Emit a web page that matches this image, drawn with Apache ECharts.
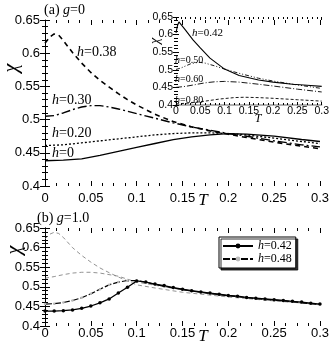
<!DOCTYPE html>
<html><head><meta charset="utf-8">
<script src="https://cdn.jsdelivr.net/npm/echarts@6/dist/echarts.min.js"></script>
<style>html,body{margin:0;padding:0;background:#fff}#c{width:332px;height:354px}</style>
</head><body><div id="c"></div>
<script>
// ---------- Panel (a), g=0, main ----------
const Ta_h0 = [0,0.02,0.04,0.06,0.08,0.10,0.12,0.14,0.16,0.18,0.20,0.22,0.25,0.28,0.30];
const chi_a_h0 = [0.438,0.439,0.441,0.446,0.452,0.458,0.464,0.470,0.474,0.477,0.479,0.478,0.475,0.470,0.467];
const Ta_h20 = [0,0.02,0.04,0.06,0.08,0.10,0.12,0.14,0.16,0.18,0.20,0.22,0.25,0.28,0.30];
const chi_a_h20 = [0.461,0.462,0.465,0.468,0.471,0.474,0.477,0.479,0.480,0.480,0.479,0.477,0.472,0.467,0.464];
const Ta_h30 = [0,0.01,0.02,0.03,0.04,0.05,0.06,0.07,0.08,0.10,0.12,0.14,0.16,0.18,0.20,0.22,0.25,0.28,0.30];
const chi_a_h30 = [0.505,0.506,0.510,0.515,0.519,0.521,0.521,0.519,0.516,0.509,0.502,0.495,0.489,0.484,0.479,0.475,0.468,0.462,0.459];
const Ta_h38 = [0,0.005,0.01,0.015,0.02,0.03,0.04,0.05,0.06,0.07,0.08,0.09,0.10,0.12,0.14,0.16,0.18,0.20,0.22,0.25,0.28,0.30];
const chi_a_h38 = [0.615,0.624,0.629,0.627,0.619,0.601,0.585,0.571,0.559,0.549,0.539,0.530,0.522,0.508,0.497,0.489,0.483,0.478,0.473,0.466,0.460,0.456];

// ---------- Panel (a) inset ----------
const Ti_h42 = [0,0.003,0.006,0.01,0.02,0.035,0.05,0.07,0.10,0.13,0.17,0.20,0.24,0.27,0.30];
const chi_i_h42 = [0.605,0.625,0.636,0.632,0.612,0.585,0.562,0.533,0.502,0.484,0.471,0.465,0.459,0.456,0.453];
const Ti_h50 = [0,0.01,0.02,0.03,0.04,0.05,0.06,0.08,0.10,0.13,0.17,0.20,0.25,0.30];
const chi_i_h50 = [0.501,0.505,0.511,0.517,0.520,0.521,0.519,0.511,0.502,0.490,0.476,0.468,0.457,0.447];
const Ti_h60 = [0,0.02,0.04,0.06,0.08,0.10,0.13,0.17,0.20,0.25,0.30];
const chi_i_h60 = [0.450,0.453,0.458,0.463,0.466,0.467,0.465,0.459,0.454,0.445,0.437];
const Ti_h80 = [0,0.03,0.06,0.09,0.12,0.14,0.17,0.20,0.25,0.30];
const chi_i_h80 = [0.403,0.406,0.411,0.417,0.421,0.422,0.421,0.419,0.415,0.411];

// ---------- Panel (b), g=1.0 ----------
const Tb = [0,0.01,0.02,0.03,0.04,0.05,0.06,0.07,0.08,0.09,0.10,0.11,0.12,0.13,0.14,0.15,0.16,0.17,0.18,0.19,0.20,0.21,0.22,0.23,0.24,0.25,0.26,0.27,0.28,0.29,0.30];
const chi_b_h42 = [0.438,0.438,0.439,0.441,0.445,0.451,0.459,0.469,0.484,0.499,0.515,0.512,0.507,0.503,0.498,0.494,0.490,0.487,0.484,0.481,0.478,0.476,0.473,0.471,0.469,0.467,0.465,0.463,0.461,0.458,0.456];
const chi_b_h48 = [0.456,0.457,0.460,0.465,0.472,0.482,0.494,0.505,0.512,0.516,0.516,0.512,0.506,0.501,0.497,0.493,0.489,0.486,0.483,0.480,0.477,0.475,0.472,0.470,0.468,0.466,0.464,0.462,0.459,0.457,0.455];
const Tb_g1 = [0,0.005,0.01,0.015,0.02,0.03,0.04,0.05,0.06,0.07,0.08,0.10,0.12,0.15,0.20,0.25,0.30];
const chi_b_g1 = [0.622,0.634,0.639,0.636,0.626,0.600,0.580,0.563,0.548,0.536,0.525,0.505,0.497,0.486,0.474,0.464,0.455];
const Tb_g2 = [0,0.01,0.02,0.03,0.04,0.05,0.06,0.08,0.10,0.12,0.15,0.20,0.25,0.30];
const chi_b_g2 = [0.522,0.526,0.531,0.535,0.537,0.537,0.535,0.527,0.512,0.504,0.492,0.477,0.465,0.454];

const xTicks = [0,0.05,0.1,0.15,0.2,0.25,0.3];
const yTicks = [0.4,0.45,0.5,0.55,0.6,0.65];
const legendNames = ['h=0.42','h=0.48'];

const zip = (a,b)=>a.map((v,i)=>[v,b[i]]);
const SANS = 'Liberation Sans';
const SERIF = 'Liberation Serif';

function axesFor(gi, o){
  const xs = [], ys = [];
  const base = {gridIndex: gi, type:'value', min:0, max:0.3, interval:0.05, splitLine:{show:false}};
  xs.push(Object.assign({}, base, {position:'bottom',
    axisLine:{show:!!o.bottomLine, lineStyle:{color:o.bottomLineColor||'#000', width:o.bottomLineWidth||1}},
    axisTick:{show:true, inside:true, length:o.tl, lineStyle:{color:'#000'}},
    minorTick:{show:true, splitNumber:o.xMinor, length:o.mtl, lineStyle:{color:'#000'}},
    axisLabel:{show:true, margin:o.xMargin, color:'#000', fontFamily:SANS, fontSize:o.fs,
      formatter:v=>String(+v.toFixed(2))}}));
  xs.push(Object.assign({}, base, {position:'top',
    axisLine:{show:false},
    axisTick:{show:true, inside:true, length:o.tl, lineStyle:{color:'#000'}},
    minorTick:{show:true, splitNumber:o.xMinor, length:o.mtl, lineStyle:{color:'#000'}},
    axisLabel:{show:false}}));
  const yb = {gridIndex: gi, type:'value', min:0.4, max:0.65, interval:0.05, splitLine:{show:false}};
  ys.push(Object.assign({}, yb, {position:'left',
    axisLine:{show:!!o.leftLine, lineStyle:{color:'#000'}},
    axisTick:{show:true, inside:true, length:o.tl, lineStyle:{color:'#000'}},
    minorTick:{show:true, splitNumber:5, length:o.mtl, lineStyle:{color:'#000'}},
    axisLabel:{show:true, margin:o.yMargin, color:'#000', fontFamily:SANS, fontSize:o.fs,
      formatter:v=>String(+v.toFixed(2))}}));
  ys.push(Object.assign({}, yb, {position:'right',
    axisLine:{show:!!o.rightLine, lineStyle:{color:'#000'}},
    axisTick:{show:true, inside:true, length:o.tl, lineStyle:{color:'#000'}},
    minorTick:{show:true, splitNumber:5, length:o.mtl, lineStyle:{color:'#000'}},
    axisLabel:{show:false}}));
  return {xs, ys};
}

const A = axesFor(0, {tl:5, mtl:3, xMinor:4, fs:13, xMargin:6, yMargin:5, leftLine:true});
const I = axesFor(1, {tl:3, mtl:2, xMinor:5, fs:10.5, xMargin:1, yMargin:3, bottomLine:true, bottomLineColor:'#999', bottomLineWidth:1.5});
const B = axesFor(2, {tl:5, mtl:3, xMinor:4, fs:13, xMargin:1, yMargin:5, leftLine:true, rightLine:true});

const xAxis = [...A.xs, ...I.xs, ...B.xs];
const yAxis = [...A.ys, ...I.ys, ...B.ys];

function ln(name, T, chi, xi, yi, ls, extra){
  return Object.assign({name, type:'line', xAxisIndex:xi, yAxisIndex:yi, data:zip(T,chi),
    showSymbol:false, symbol:'none', smooth:false, silent:true,
    lineStyle:Object.assign({color:'#000', width:1.2}, ls)}, extra||{});
}

const series = [
  ln('a0', Ta_h0, chi_a_h0, 0, 0, {width:1.3}),
  ln('a20', Ta_h20, chi_a_h20, 0, 0, {width:1.3, type:[2,2]}),
  ln('a30', Ta_h30, chi_a_h30, 0, 0, {width:1.4, type:[9,3,2,3]}),
  ln('a38', Ta_h38, chi_a_h38, 0, 0, {width:1.6, type:[5,4]}),
  ln('i42', Ti_h42, chi_i_h42, 2, 2, {width:1.1}),
  ln('i50', Ti_h50, chi_i_h50, 2, 2, {width:0.9, type:[4,2,1,2,1,2]}),
  ln('i60', Ti_h60, chi_i_h60, 2, 2, {width:0.9, type:[6,2,1,2]}),
  ln('i80', Ti_h80, chi_i_h80, 2, 2, {width:0.9, type:[3,2]}),
  ln('g1', Tb_g1, chi_b_g1, 4, 4, {width:0.8, color:'#777', type:[4,3]}),
  ln('g2', Tb_g2, chi_b_g2, 4, 4, {width:0.8, color:'#777', type:[4,3]}),
  ln('h=0.48', Tb, chi_b_h48, 4, 4, {width:1.2, type:[7,2]},
    {showSymbol:true, symbol:'circle', symbolSize:2.5, itemStyle:{color:'#bbb', borderWidth:0}}),
  ln('h=0.42', Tb, chi_b_h42, 4, 4, {width:1.3},
    {showSymbol:true, symbol:'circle', symbolSize:3.5, itemStyle:{color:'#000', borderWidth:0}})
];

const it = {i:{fontStyle:'italic', fontFamily:SERIF}};
function txt(x, y, text, size, extra){
  return Object.assign({type:'text', x, y, silent:true, style:{text, fill:'#000',
    font:size+'px "'+SERIF+'"', textAlign:'left', textVerticalAlign:'middle',
    rich:{i:{fontStyle:'italic', fontFamily:SERIF, fontSize:size}, r:{fontFamily:SERIF, fontSize:size}}}}, extra||{});
}
function rot(x, y, text, size){
  return {type:'text', x, y, rotation:Math.PI/2, silent:true, style:{text, fill:'#000',
    font:'italic '+size+'px "'+SERIF+'"', textAlign:'center', textVerticalAlign:'middle'}};
}
function tcenter(x, y, text, size){
  return {type:'text', x, y, silent:true, style:{text, fill:'#000',
    font:'italic '+size+'px "'+SERIF+'"', textAlign:'center', textVerticalAlign:'middle'}};
}

const graphic = [
  txt(44, 10, '{r|(a)} {i|g}{r|=0}', 14),
  txt(37, 218, '{r|(b)} {i|g}{r|=1.0}', 14),
  txt(77, 52, '{i|h}{r|=0.38}', 14),
  txt(52, 100, '{i|h}{r|=0.30}', 14),
  txt(52, 133, '{i|h}{r|=0.20}', 14),
  txt(52, 153, '{i|h}{r|=0}', 14),
  txt(192, 33, '{i|h}{r|=0.42}', 11),
  txt(175, 60, '{i|h}{r|=0.50}', 10),
  txt(175, 79, '{i|h}{r|=0.60}', 10),
  txt(175, 100, '{i|h}{r|=0.80}', 10),
  rot(12, 68, 'χ', 20),
  rot(15, 250, 'χ', 20),
  rot(155, 41, 'χ', 14),
  tcenter(203, 201, 'T', 17),
  tcenter(203, 337, 'T', 17),
  tcenter(258, 119, 'T', 12)
];

const chart = echarts.init(document.getElementById('c'), null, {renderer:'canvas'});
chart.setOption({
  animation:false,
  backgroundColor:'#fff',
  grid:[
    {left:45, top:20, width:278, height:166},
    {left:176, top:17, width:147, height:88},
    {left:45, top:228, width:278, height:98}
  ],
  xAxis, yAxis, series, graphic,
  legend:{
    data:legendNames, orient:'vertical', left:219, top:237,
    padding:[3,4,3,3], itemGap:1, itemWidth:30, itemHeight:6,
    backgroundColor:'#fff', borderColor:'#000', borderWidth:1,
    shadowColor:'rgba(0,0,0,0.8)', shadowBlur:0, shadowOffsetX:2, shadowOffsetY:2,
    selectedMode:false,
    textStyle:{fontFamily:SERIF, fontSize:12, color:'#000', rich:it},
    formatter:n=>'{i|h}'+n.slice(1)
  }
});
</script></body></html>
